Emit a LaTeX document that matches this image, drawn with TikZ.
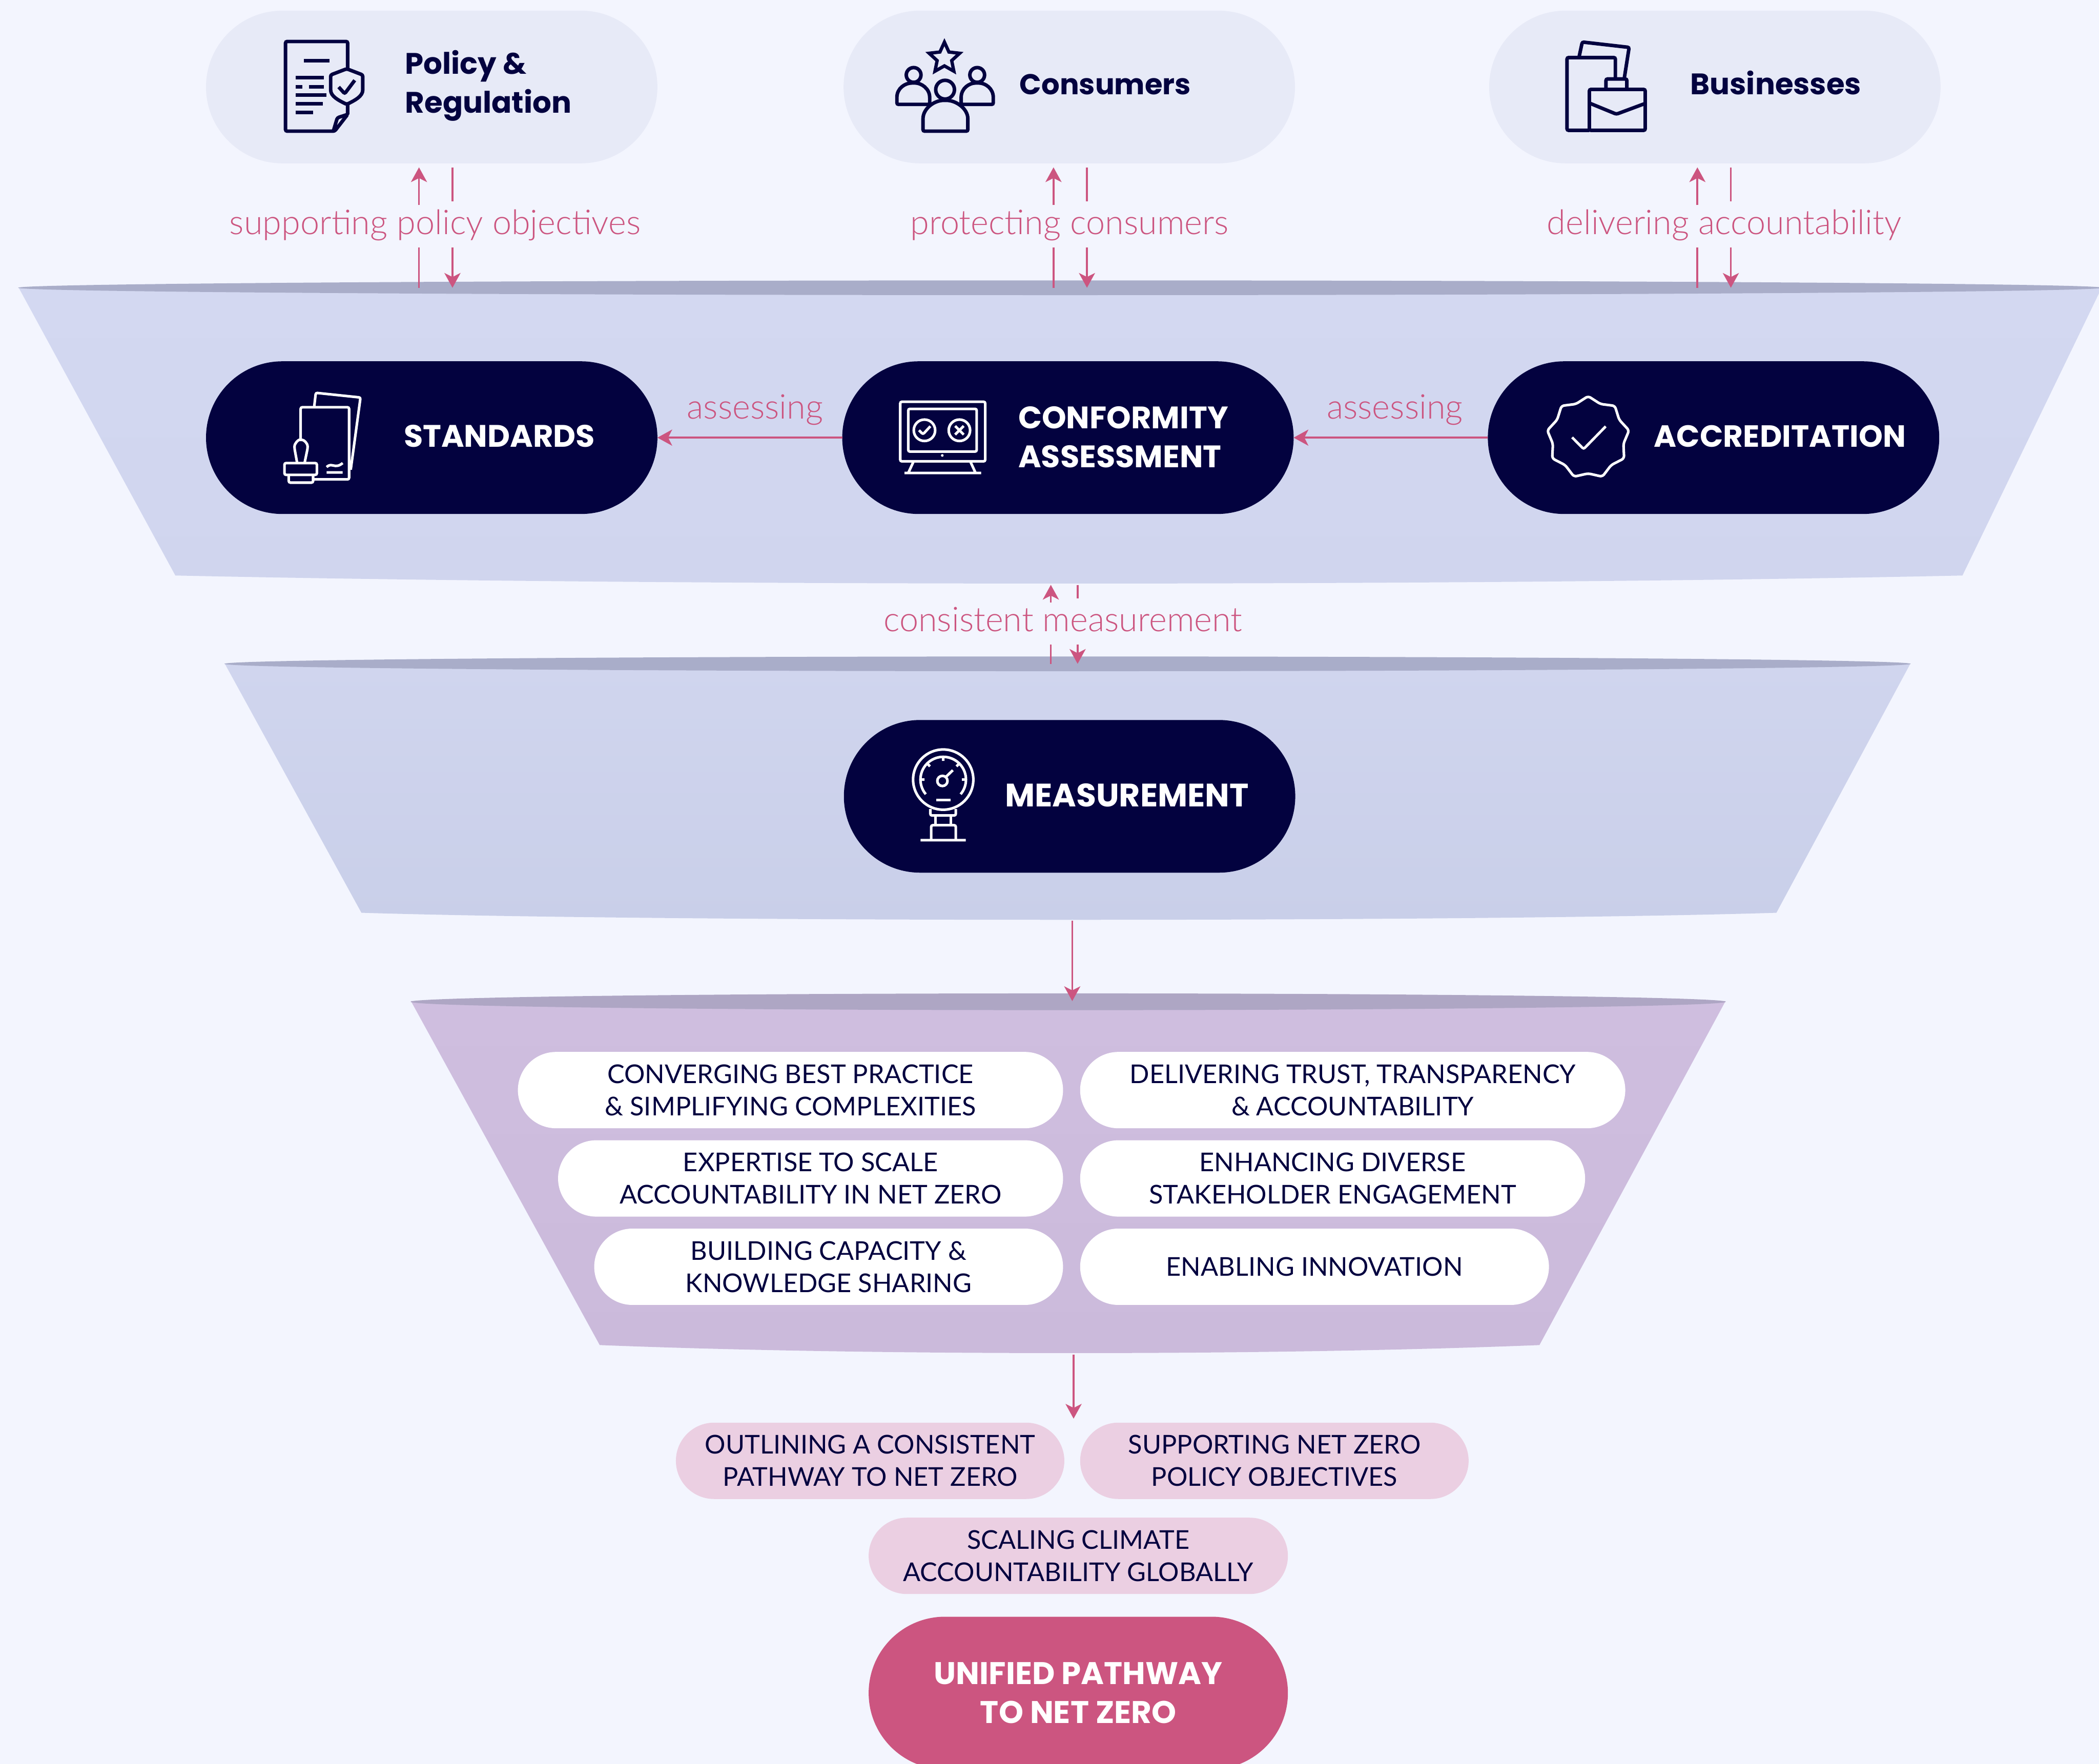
\documentclass[tikz,border=0pt]{standalone}
\usepackage{fontspec}
\setmainfont{Lato}
\newfontfamily\thinfont{Lato Light}
\newfontfamily\headfont{Poppins}
\usepackage{xcolor}
\definecolor{Page}{HTML}{f3f5fe}
\definecolor{Night}{HTML}{03023f}
\definecolor{Rose}{HTML}{cc5580}
\colorlet{cPage}{Page}
\colorlet{cNavy}{Night}
\colorlet{cRose}{Rose}
\definecolor{cPale}{HTML}{e7eaf7}
\definecolor{cBlush}{HTML}{ebcfe2}
\definecolor{cRimBlue}{HTML}{a9adc9}
\definecolor{cRimLilac}{HTML}{aea6c4}
\definecolor{cTierA}{HTML}{d3d8f1}
\definecolor{cTierB}{HTML}{d0d5ee}
\definecolor{cTierC}{HTML}{c9cfe9}
\definecolor{cTierD}{HTML}{cfbedf}
\definecolor{cTierE}{HTML}{cbbadb}
\usepackage{tikz}
\usetikzlibrary{arrows.meta, positioning, shapes.geometric}
\tikzset{
	line width = .4pt,
	>={Stealth[length=.11cm, width=.12cm, inset=.03cm]},
	pill/.style={
		rectangle,
		rounded corners=.57cm,
		minimum width=3.37cm,
		minimum height=1.14cm,
		inner sep=0,
		outer sep=0
	},
	small pill/.style={
		rectangle,
		rounded corners=.285cm,
		minimum height=.57cm,
		inner sep=0,
		outer sep=0,
		align=center,
		text=cNavy,
		font=\fontsize{5.5}{6.85}\selectfont
	},
	rim/.style={
		ellipse,
		inner sep=0,
		outer sep=0
	},
	head text/.style={
		anchor=west,
		inner sep=0,
		align=left,
		font=\headfont\bfseries\fontsize{6.3}{8.25}\selectfont
	},
	caps text/.style={
		head text,
		font=\headfont\bfseries\fontsize{6.6}{8.25}\selectfont
	},
	link text/.style={
		text=cRose,
		inner sep=0,
		text height=.21cm,
		text depth=.09cm,
		font=\thinfont\fontsize{7.25}{8}\selectfont
	},
	edge/.style={
		draw=cRose,
		shorten >=.03cm
	},
	icon dark/.style={
		draw=cNavy,
		line width=.75pt,
		rounded corners=.012cm
	},
	icon light/.style={
		draw=white,
		line width=.55pt,
		rounded corners=.012cm
	}
}

\begin{document}
\begin{tikzpicture}[x=.01cm, y=-.01cm]
\useasboundingbox[fill=cPage] (0,0) rectangle (1568,1318);

% ---
% funnels
% ---
\path[top color=cTierA, bottom color=cTierB] (14,215) -- (131,430) .. controls (500,438) and (1100,438) .. (1466,430) -- (1570,215) -- cycle;
\node[rim, fill=cRimBlue, minimum width=15.56cm, minimum height=.11cm] at (792,215) (tier1) {};
\coordinate (tier1-end) at (795,437);

\path[top color=cTierB, bottom color=cTierC] (168,496) -- (270,682) .. controls (500,689) and (1100,689) .. (1327,682) -- (1427,496) -- cycle;
\node[rim, fill=cRimBlue, minimum width=12.59cm, minimum height=.11cm] at (797.5,496) (tier2) {};
\coordinate (tier2-end) at (801,688);

\path[top color=cTierD, bottom color=cTierE] (307,748) -- (448,1005) .. controls (650,1013) and (950,1013) .. (1150,1005) -- (1289,748) -- cycle;
\node[rim, fill=cRimLilac, minimum width=9.82cm, minimum height=.125cm] at (798,748.5) (tier3) {};
\coordinate (tier3-in) at (801,748);
\coordinate (tier3-end) at (802,1012);

% ---
% top row
% ---
\node[pill, fill=cPale] at (322.5,65) (policy) {};
\node[pill, fill=cPale, right=1.39cm of policy] (consumers) {};
\node[pill, fill=cPale, right=1.45cm of consumers] (businesses) {};

\node[head text, text=cNavy] at (302,64) (policy-text) {Policy \&\\Regulation};
\node[head text, text=cNavy, font=\headfont\bfseries\fontsize{6.1}{8.25}\selectfont] at (761,63) (consumers-text) {Consumers};
\node[head text, text=cNavy] at (1262,62) (businesses-text) {Businesses};

% document with shield
\draw[icon dark] (259.7,85.5) -- (259.7,31) -- (213.3,31) -- (213.3,98) -- (250,98) -- (259.7,85.5) -- (252,88) -- (249,98);
\draw[icon dark, fill=cPale] (259,51.4) -- (271,56) -- (271,66) .. controls (271,72) and (265,75) .. (259,78) .. controls (253,75) and (247,72) .. (247,66) -- (247,56) -- cycle;
\draw[icon dark] (253,65) -- (257.5,70) -- (265,60);
\draw[icon dark] (227,45.4) -- (246,45.4) (221,58) -- (242,58) (221,64.8) -- (226,64.8) (231,64.8) -- (242,64.8) (221,71) -- (244,71) (221,77.5) -- (241,77.5) (221,84) -- (234,84);

% people with star
\node[star, star points=5, star point ratio=2.1, draw=cNavy, line width=.7pt, minimum size=.24cm, inner sep=0] at (705.5,43.5) (consumers-star) {};
\draw[icon dark] (682.5,56) circle[radius=5.5] (730,56) circle[radius=5.5];
\draw[icon dark] (670,78) -- (694.5,78) -- (694.5,74) .. controls (694.5,66) and (688,62) .. (682.5,62) .. controls (676,62) and (670,66) .. (670,74) -- cycle;
\draw[icon dark] (718,78) -- (742,78) -- (742,74) .. controls (742,66) and (736,62) .. (730,62) .. controls (724,62) and (718,66) .. (718,74) -- cycle;
\draw[icon dark, fill=cPale] (706,67) circle[radius=7];
\draw[icon dark, fill=cPale] (689.5,98) -- (723,98) -- (723,90) .. controls (723,81) and (714,75) .. (706,75) .. controls (698,75) and (689.5,81) .. (689.5,90) -- cycle;

% papers with case
\draw[icon dark] (1179.5,43) -- (1182,31.4) -- (1217,35.4) -- (1213.3,59);
\draw[icon dark] (1187.3,97.4) -- (1170.6,97.4) -- (1170.6,43) -- (1206.7,43) -- (1206.7,59);
\draw[icon dark] (1199.7,66.8) -- (1199.7,59) -- (1215.3,59) -- (1215.3,66.8);
\draw[icon dark] (1187.3,66.8) -- (1229,66.8) -- (1229,97.4) -- (1187.3,97.4) -- cycle;
\draw[icon dark] (1188,77.3) -- (1207.5,85.3) -- (1229,77.3);

% ---
% middle row
% ---
\node[pill, fill=cNavy] at (322.5,327) (standards) {};
\node[pill, fill=cNavy, right=1.38cm of standards] (conformity) {};
\node[pill, fill=cNavy, right=1.45cm of conformity] (accreditation) {};
\node[pill, fill=cNavy] at (799,595) (measurement) {};

\node[caps text, text=white] at (301,326) (standards-text) {STANDARDS};
\node[caps text, text=white] at (760,326.5) (conformity-text) {CONFORMITY\\ASSESSMENT};
\node[caps text, text=white, font=\headfont\bfseries\fontsize{6.5}{8.25}\selectfont] at (1235,326) (accreditation-text) {ACCREDITATION};
\node[caps text, text=white, font=\headfont\bfseries\fontsize{6.9}{8.25}\selectfont] at (750,594) (measurement-text) {MEASUREMENT};

% papers with stamp
\draw[icon light] (234.7,304) -- (235.9,293.5) -- (269.3,297) -- (262,351);
\draw[icon light] (224.6,328.7) -- (224.6,304.3) -- (260.8,304.3) -- (260.8,358.2) -- (233.9,358.2);
\draw[icon light] (222,346) -- (220,335) .. controls (220,331) and (223,328.7) .. (224.6,328.7) .. controls (227,328.7) and (229.8,331) .. (229.8,335) -- (227.5,346);
\draw[icon light] (212.5,346) -- (236.7,346) -- (236.7,354.8) -- (212.5,354.8) -- cycle;
\draw[icon light] (215.7,354.8) -- (215.7,360.6) -- (233.9,360.6) -- (233.9,354.8);
\draw[icon light] (244,353) -- (256,353) (244,349) .. controls (248,345) and (250,351) .. (256,346);

% monitor
\draw[icon light] (672.5,300.2) -- (736,300.2) -- (736,344.7) -- (672.5,344.7) -- cycle;
\draw[icon light] (678.5,305.5) -- (729.6,305.5) -- (729.6,337.4) -- (678.5,337.4) -- cycle;
\draw[icon light] (690.6,321.5) circle[radius=8] (716.7,321.5) circle[radius=8];
\draw[icon light] (686.5,321.5) -- (689.5,324.5) -- (695,318.5);
\draw[icon light] (713.5,318.3) -- (719.9,324.7) (719.9,318.3) -- (713.5,324.7);
\draw[icon light] (682.5,344.7) -- (678.5,353.4) (724.8,344.7) -- (728.8,353.4) (675.7,353.4) -- (732.9,353.4);
\fill[white] (703.9,340.3) circle[radius=1];

% badge
\node[star, star points=9, star point ratio=1.16, draw=white, line width=.55pt, rounded corners=.02cm, minimum size=.62cm, inner sep=0] at (1186.4,327) (accreditation-badge) {};
\draw[icon light] (1174.4,326.8) -- (1183,335.5) -- (1199.5,318.6);

% gauge
\coordinate (gauge-c) at (704.6,582.5);
\draw[icon light] (gauge-c) circle[radius=22.5];
\draw[icon light] (gauge-c) ++(140:17) arc[start angle=140, end angle=400, radius=17];
\draw[icon light] (704,583.5) circle[radius=3.8] (706.6,580.5) -- (711.8,575.5);
\draw[icon light] (gauge-c) ++(180:17) -- ++(180:-3) (gauge-c) ++(225:17) -- ++(225:-3) (gauge-c) ++(270:17) -- ++(270:-3) (gauge-c) ++(315:17) -- ++(315:-3) (gauge-c) ++(360:17) -- ++(360:-3);
\draw[icon light] (699.4,597.7) -- (710,597.7);
\draw[icon light] (695,604.5) -- (695,609.3) -- (714,609.3) -- (714,604.5);
\draw[icon light] (698.7,609.3) -- (698.7,616.6) (710.2,609.3) -- (710.2,616.6);
\draw[icon light] (695.6,627.8) -- (695.6,616.6) -- (714,616.6) -- (714,627.8) (687.7,627.8) -- (721.5,627.8);

% ---
% labels and arrows
% ---
\node[link text] at (325,169) (policy-label) {supporting policy objectives};
\node[link text] at (799,169) (consumers-label) {protecting consumers};
\node[link text] at (1288,169) (businesses-label) {delivering accountability};
\node[link text] at (794,466) (measurement-label) {consistent measurement};
\node[link text] at (564,307) (assess-left) {assessing};
\node[link text] at (1042,307) (assess-right) {assessing};

\coordinate (policy-up) at (313,125);
\coordinate (policy-dn) at (338,125);
\coordinate (consumers-up) at (787,125);
\coordinate (consumers-dn) at (812,125);
\coordinate (businesses-up) at (1268,125);
\coordinate (businesses-dn) at (1293,125);
\coordinate (measure-up) at (785,437);
\coordinate (measure-dn) at (805,437);

\draw[edge, ->] (policy-up |- policy-label.north) -- (policy-up |- policy.south);
\draw[edge] (policy-dn) -- (policy-dn |- policy-label.north);
\draw[edge, shorten >=0pt] (policy-up |- policy-label.south) -- (policy-up |- tier1.center);
\draw[edge, ->, shorten >=0pt] (policy-dn |- policy-label.south) -- (policy-dn |- tier1.center);

\draw[edge, ->] (consumers-up |- consumers-label.north) -- (consumers-up |- consumers.south);
\draw[edge] (consumers-dn) -- (consumers-dn |- consumers-label.north);
\draw[edge, shorten >=0pt] (consumers-up |- consumers-label.south) -- (consumers-up |- tier1.center);
\draw[edge, ->, shorten >=0pt] (consumers-dn |- consumers-label.south) -- (consumers-dn |- tier1.center);

\draw[edge, ->] (businesses-up |- businesses-label.north) -- (businesses-up |- businesses.south);
\draw[edge] (businesses-dn) -- (businesses-dn |- businesses-label.north);
\draw[edge, shorten >=0pt] (businesses-up |- businesses-label.south) -- (businesses-up |- tier1.center);
\draw[edge, ->, shorten >=0pt] (businesses-dn |- businesses-label.south) -- (businesses-dn |- tier1.center);

\draw[edge, ->, shorten >=0pt] (measure-up |- measurement-label.north) -- (measure-up |- tier1-end);
\draw[edge] (measure-dn |- tier1-end) -- (measure-dn |- measurement-label.north);
\draw[edge, shorten >=0pt] (measure-up |- measurement-label.south) -- (measure-up |- tier2.center);
\draw[edge, ->, shorten >=0pt] (measure-dn |- measurement-label.south) -- (measure-dn |- tier2.center);

\draw[edge, ->, shorten >=0pt] (conformity.west) -- (standards.east);
\draw[edge, ->, shorten >=0pt] (accreditation.west) -- (conformity.east);
\draw[edge, ->, shorten >=0pt] (tier2-end) -- (tier3-in);

% ---
% benefits
% ---
\node[small pill, fill=white, minimum width=4.07cm] at (590.5,814.5) (converging) {CONVERGING BEST PRACTICE\\\& SIMPLIFYING COMPLEXITIES};
\node[small pill, fill=white, minimum width=4.07cm] at (1010.5,814.5) (delivering) {DELIVERING TRUST, TRANSPARENCY\\\& ACCOUNTABILITY};
\node[small pill, fill=white, minimum width=3.77cm] at (605.5,880.5) (expertise) {EXPERTISE TO SCALE\\ACCOUNTABILITY IN NET ZERO};
\node[small pill, fill=white, minimum width=3.77cm] at (995.5,880.5) (enhancing) {ENHANCING DIVERSE\\STAKEHOLDER ENGAGEMENT};
\node[small pill, fill=white, minimum width=3.50cm] at (619,946.5) (building) {BUILDING CAPACITY \&\\KNOWLEDGE SHARING};
\node[small pill, fill=white, minimum width=3.50cm] at (982,946.5) (enabling) {ENABLING INNOVATION};

% ---
% outcomes
% ---
\node[small pill, fill=cBlush, minimum width=2.90cm] at (650,1091.5) (outlining) {OUTLINING A CONSISTENT\\PATHWAY TO NET ZERO};
\node[small pill, fill=cBlush, minimum width=2.90cm] at (952,1091.5) (supporting) {SUPPORTING NET ZERO\\POLICY OBJECTIVES};
\node[small pill, fill=cBlush, minimum width=3.13cm] at (805.5,1162.5) (scaling) {SCALING CLIMATE\\ACCOUNTABILITY GLOBALLY};
\node[pill, fill=cRose, minimum width=3.13cm, text=white, align=center, font=\headfont\bfseries\fontsize{6.65}{8.25}\selectfont] at (805.5,1265) (unified) {UNIFIED PATHWAY\\TO NET ZERO};

\draw[edge, ->] (tier3-end) -- (tier3-end |- outlining.north);
\end{tikzpicture}
\end{document}
